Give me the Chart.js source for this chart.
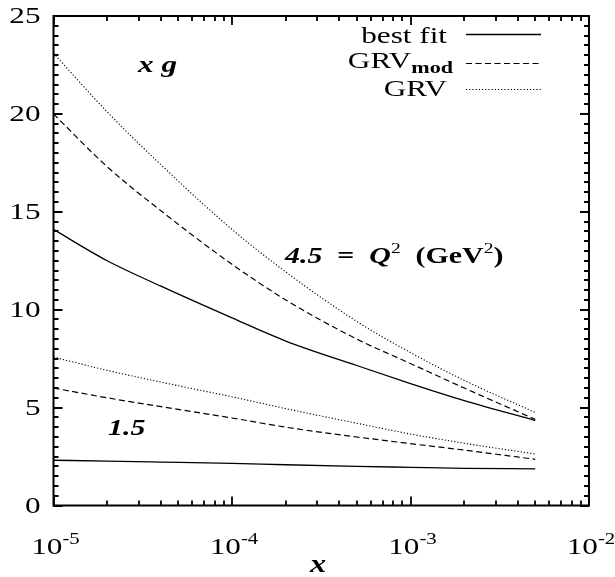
<!DOCTYPE html>
<html>
<head>
<meta charset="utf-8">
<script src="https://cdn.jsdelivr.net/npm/chart.js@4.4.0/dist/chart.umd.min.js"></script>
<style>
  html, body { margin: 0; padding: 0; background: #fff; }
  #wrap { width: 615px; height: 577px; }
</style>
</head>
<body>
<div id="wrap"><canvas id="chart" width="615" height="577"></canvas></div>
<script>
const xValues = [1e-5, 2e-5, 4e-5, 1e-4, 2e-4, 5e-4, 1e-3, 2e-3, 5e-3];

// Q^2 = 4.5 GeV^2
const bestFit45 = [14.1, 12.5, 11.2, 9.58, 8.4, 7.15, 6.23, 5.36, 4.34];
const grvMod45 = [20.0, 17.3, 15.05, 12.32, 10.5, 8.5, 7.25, 6.0, 4.4];
const grv45 = [23.1, 20.1, 17.4, 14.1, 11.93, 9.4, 7.81, 6.39, 4.75];

// Q^2 = 1.5 GeV^2
const bestFit15 = [2.31, 2.27, 2.22, 2.15, 2.08, 2.0, 1.95, 1.9, 1.87];
const grvMod15 = [6.0, 5.5, 5.05, 4.47, 4.0, 3.5, 3.16, 2.83, 2.36];
const grv15 = [7.58, 6.9, 6.3, 5.55, 4.95, 4.2, 3.65, 3.18, 2.63];

const yTicks = [0, 5, 10, 15, 20, 25];
const xTickExps = [-5, -4, -3, -2];
const seriesNames = ['best fit', 'GRV', 'GRV']; // second one gets the "mod" subscript

const SERIF = '"Liberation Serif", "Times New Roman", serif';
const SX = 1.3; // the original lettering is wide

const styles = {
  solid: { borderDash: [], borderWidth: 1.3 },
  dashed: { borderDash: [6, 3.5], borderWidth: 1.2 },
  dotted: { borderDash: [1.2, 2], borderWidth: 1.1 }
};

function pts(vals) {
  return vals.map((v, i) => ({ x: xValues[i], y: v }));
}

function line(label, vals, style) {
  return Object.assign({
    label: label,
    data: pts(vals),
    borderColor: '#000',
    backgroundColor: '#000',
    pointRadius: 0,
    fill: false,
    cubicInterpolationMode: 'monotone'
  }, styles[style]);
}

// draws a run of text pieces (each with its own font / vertical offset), stretched horizontally
function drawRuns(ctx, runs, x, y, align) {
  let w = 0;
  runs.forEach(r => { ctx.font = r.font; w += ctx.measureText(r.t).width * SX; });
  let cx = align === 'right' ? x - w : align === 'center' ? x - w / 2 : x;
  ctx.textAlign = 'left';
  runs.forEach(r => {
    ctx.font = r.font;
    ctx.save();
    ctx.translate(cx, y + (r.dy || 0));
    ctx.scale(SX, 1);
    ctx.fillText(r.t, 0, 0);
    ctx.restore();
    cx += ctx.measureText(r.t).width * SX;
  });
}

const framePlugin = {
  id: 'framePlugin',
  afterDatasetsDraw(chart) {
    const { ctx, chartArea: a, scales: { x, y } } = chart;
    ctx.save();
    ctx.strokeStyle = '#000';
    ctx.fillStyle = '#000';
    ctx.setLineDash([]);

    // ticks, all pointing inward
    ctx.lineWidth = 1.8;
    ctx.beginPath();
    for (let v = 0; v <= 25; v += 0.5) {
      const py = Math.round(y.getPixelForValue(v));
      const len = v % 5 === 0 ? 9 : 5;
      ctx.moveTo(a.left, py); ctx.lineTo(a.left + len, py);
      ctx.moveTo(a.right, py); ctx.lineTo(a.right - len, py);
    }
    for (let e = -5; e < -2; e++) {
      for (let m = 1; m <= 9; m++) {
        const px = Math.round(x.getPixelForValue(m * Math.pow(10, e)));
        const len = m === 1 ? 9 : 5;
        ctx.moveTo(px, a.bottom); ctx.lineTo(px, a.bottom - len);
        ctx.moveTo(px, a.top); ctx.lineTo(px, a.top + len);
      }
    }
    ctx.stroke();

    // frame
    ctx.lineWidth = 2;
    ctx.strokeRect(a.left, a.top, a.right - a.left, a.bottom - a.top);

    // y tick labels
    ctx.textBaseline = 'middle';
    yTicks.forEach(v => {
      drawRuns(ctx, [{ t: String(v), font: '24px ' + SERIF }], a.left - 13, y.getPixelForValue(v) + 1, 'right');
    });

    // x tick labels 10^n
    ctx.textBaseline = 'alphabetic';
    xTickExps.forEach(e => {
      drawRuns(ctx, [
        { t: '10', font: '24px ' + SERIF },
        { t: '-' + Math.abs(e), font: '16px ' + SERIF, dy: -10 }
      ], x.getPixelForValue(Math.pow(10, e)) + 2, 554, 'center');
    });

    // axis title
    drawRuns(ctx, [{ t: 'x', font: 'italic bold 25px ' + SERIF }], 318, 572, 'center');

    // annotations
    drawRuns(ctx, [{ t: 'x g', font: 'italic bold 24px ' + SERIF }], 138, 72, 'left');
    drawRuns(ctx, [
      { t: '4.5', font: 'italic bold 23px ' + SERIF },
      { t: '  =  ', font: 'bold 23px ' + SERIF },
      { t: 'Q', font: 'italic bold 23px ' + SERIF },
      { t: '2', font: '15px ' + SERIF, dy: -10 },
      { t: '  (GeV', font: 'bold 23px ' + SERIF },
      { t: '2', font: '15px ' + SERIF, dy: -10 },
      { t: ')', font: 'bold 23px ' + SERIF }
    ], 285, 263, 'left');
    drawRuns(ctx, [{ t: '1.5', font: 'italic bold 23px ' + SERIF }], 108, 435, 'left');

    // legend
    const legendRows = [
      { y: 34.5, base: 43, style: 'solid', runs: [{ t: seriesNames[0], font: '24px ' + SERIF }] },
      { y: 63.5, base: 68, style: 'dashed', runs: [
        { t: seriesNames[1], font: '24px ' + SERIF },
        { t: 'mod', font: 'bold 17px ' + SERIF, dy: 5 }] },
      { y: 89.5, base: 96, style: 'dotted', runs: [{ t: seriesNames[2], font: '24px ' + SERIF }] }
    ];
    legendRows.forEach((r, i) => {
      drawRuns(ctx, r.runs, i === 1 ? 453 : 447, r.base, 'right');
      ctx.beginPath();
      ctx.setLineDash(styles[r.style].borderDash);
      ctx.lineWidth = styles[r.style].borderWidth;
      ctx.moveTo(466, r.y);
      ctx.lineTo(541, r.y);
      ctx.stroke();
    });

    ctx.restore();
  }
};

new Chart(document.getElementById('chart').getContext('2d'), {
  type: 'line',
  data: {
    datasets: [
      line('best fit (4.5)', bestFit45, 'solid'),
      line('GRVmod (4.5)', grvMod45, 'dashed'),
      line('GRV (4.5)', grv45, 'dotted'),
      line('best fit (1.5)', bestFit15, 'solid'),
      line('GRVmod (1.5)', grvMod15, 'dashed'),
      line('GRV (1.5)', grv15, 'dotted')
    ]
  },
  options: {
    responsive: false,
    animation: false,
    layout: { padding: { left: 53.5, top: 16, right: 26, bottom: 71.5 } },
    plugins: { legend: { display: false }, tooltip: { enabled: false } },
    scales: {
      x: { type: 'logarithmic', min: 1e-5, max: 1e-2, display: false },
      y: { type: 'linear', min: 0, max: 25, display: false }
    }
  },
  plugins: [framePlugin]
});
</script>
</body>
</html>
